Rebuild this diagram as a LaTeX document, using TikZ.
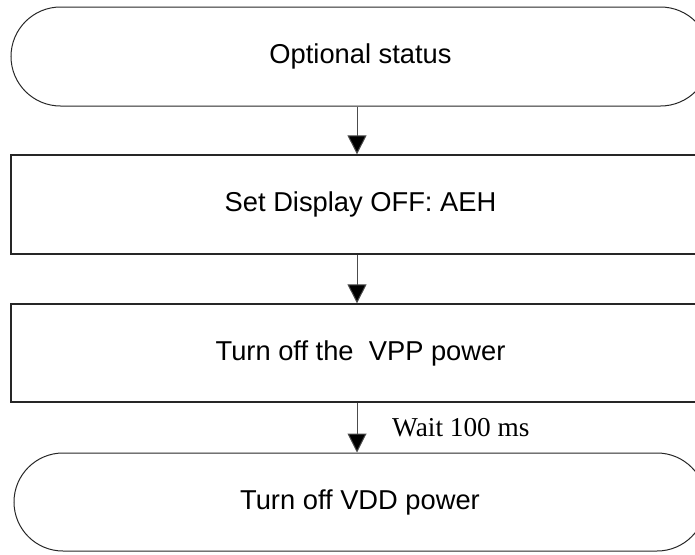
\documentclass[tikz,border=0pt]{standalone}
\usepackage{fontspec}
\setmainfont{Liberation Serif}
\newfontfamily\arialf{Liberation Sans}
\usetikzlibrary{shapes.misc,arrows.meta}
\tikzset{
  term/.style={draw=black!85, line width=1pt, rounded rectangle, minimum width=699pt, minimum height=99pt, inner sep=0pt, font=\arialf\fontsize{27.3}{32}\selectfont},
  procbox/.style={draw=black!85, line width=1.3pt, rectangle, minimum width=699pt, minimum height=99pt, inner sep=0pt, font=\arialf\fontsize{27.3}{32}\selectfont},
  flow/.style={draw=black!70, line width=1pt, -{Triangle[width=19pt,length=19pt,fill=black]}},
}
\begin{document}
\begin{tikzpicture}[x=1pt,y=-1pt]
\clip (0,0) rectangle (695,554);
\useasboundingbox (0,0) rectangle (695,554);
\node[term] (start) at (360.5,56.5) {Optional status};
\node[procbox] (disp) at (360.5,204.5) {Set Display OFF: AEH};
\node[procbox, minimum height=98pt] (vpp) at (360.5,353) {Turn off the\ \ VPP power};
\node[term, minimum width=692pt, minimum height=98pt] (vdd) at (360,502) {Turn off VDD power};
\coordinate (ax) at (357,0);
\draw[flow] (start.south -| ax) -- (disp.north -| ax);
\draw[flow] (disp.south -| ax) -- (vpp.north -| ax);
\draw[flow] (vpp.south -| ax) -- (vdd.north -| ax);
\node[anchor=west, inner sep=0pt, font=\fontsize{27.3}{32}\selectfont] (wait) at (392,428) {Wait 100 ms};
\end{tikzpicture}
\end{document}
